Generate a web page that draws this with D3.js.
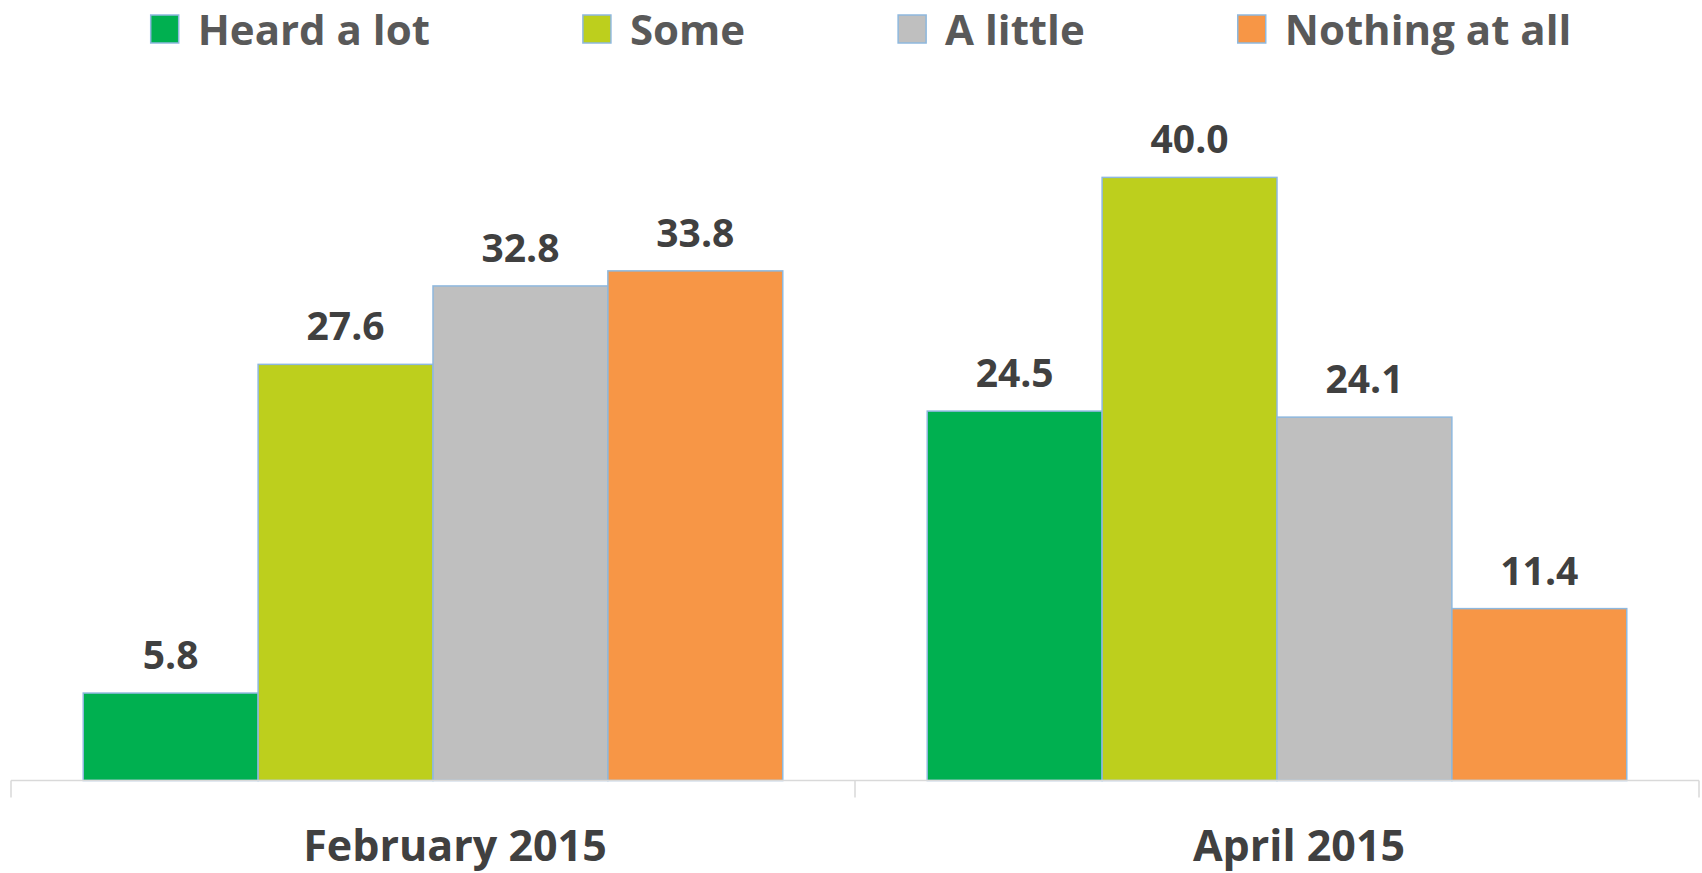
<!DOCTYPE html>
<html>
<head>
<meta charset="utf-8">
<script src="https://cdn.jsdelivr.net/npm/d3@7"></script>
<style>
  body { margin: 0; background: #fff; }
  text { font-family: "Open Sans", "Noto Sans", sans-serif; font-weight: bold; }
</style>
</head>
<body>
<div id="chart"></div>
<script>
const months = ["February 2015", "April 2015"];
const series = ["Heard a lot", "Some", "A little", "Nothing at all"];
const feb2015 = [5.8, 27.6, 32.8, 33.8];
const apr2015 = [24.5, 40.0, 24.1, 11.4];
const colors = ["#00B050", "#BDCF1D", "#BFBFBF", "#F79646"];

const values = [feb2015, apr2015];
const rows = [];
months.forEach((m, i) => {
    series.forEach((s, j) => {
        rows.push({ month: m, series: s, value: values[i][j] });
    });
});

const W = 1702, H = 873;
const plotLeft = 11, plotRight = 1699, baseline = 780.5, plotTop = 102;

const svg = d3.select("#chart")
    .append("svg")
    .attr("width", W)
    .attr("height", H);

const x0 = d3.scaleBand()
    .domain(months)
    .range([plotLeft, plotRight])
    .padding(0);

const x1 = d3.scaleBand()
    .domain(series)
    .range([0, x0.bandwidth()])
    .paddingInner(0)
    .paddingOuter(0.413);

const y = d3.scaleLinear()
    .domain([0, 45])
    .range([baseline, plotTop]);

const color = d3.scaleOrdinal()
    .domain(series)
    .range(colors);

// bars
svg.append("g")
    .selectAll("rect")
    .data(rows)
    .enter()
    .append("rect")
    .attr("x", d => x0(d.month) + x1(d.series))
    .attr("y", d => y(d.value))
    .attr("width", x1.bandwidth())
    .attr("height", d => y(0) - y(d.value))
    .attr("fill", d => color(d.series))
    .attr("stroke", "#8EB8DE")
    .attr("stroke-width", 1.5);

// value labels
svg.append("g")
    .selectAll("text")
    .data(rows)
    .enter()
    .append("text")
    .attr("x", d => x0(d.month) + x1(d.series) + x1.bandwidth() / 2)
    .attr("y", d => y(d.value) - 24)
    .attr("text-anchor", "middle")
    .style("font-size", "39px")
    .style("fill", "#404040")
    .text(d => d.value.toFixed(1));

// category axis
const xAxis = svg.append("g")
    .attr("transform", `translate(0,${baseline})`)
    .call(d3.axisBottom(x0).tickSize(0).tickFormat(""));
xAxis.select(".domain").remove();

xAxis.append("line")
    .attr("x1", plotLeft).attr("x2", plotRight)
    .attr("y1", 0).attr("y2", 0)
    .attr("stroke", "#D9D9D9")
    .attr("stroke-width", 1.5);

const edges = [plotLeft].concat(months.map(m => x0(m) + x0.bandwidth()));
xAxis.selectAll(".edge")
    .data(edges)
    .enter()
    .append("line")
    .attr("class", "edge")
    .attr("x1", d => d).attr("x2", d => d)
    .attr("y1", 0).attr("y2", 17)
    .attr("stroke", "#D9D9D9")
    .attr("stroke-width", 1.5);

svg.append("g")
    .selectAll("text")
    .data(months)
    .enter()
    .append("text")
    .attr("x", d => x0(d) + x0.bandwidth() / 2 + 22)
    .attr("y", 861)
    .attr("text-anchor", "middle")
    .style("font-size", "43px")
    .style("fill", "#404040")
    .text(d => d);

// legend
const legend = svg.append("g");
const items = legend.selectAll("g")
    .data(series)
    .enter()
    .append("g");

items.append("rect")
    .attr("width", 28)
    .attr("height", 28)
    .attr("y", 15)
    .attr("fill", d => color(d))
    .attr("stroke", "#8EB8DE")
    .attr("stroke-width", 1.5);

items.append("text")
    .attr("x", 47)
    .attr("y", 45)
    .style("font-size", "42px")
    .style("fill", "#595959")
    .text(d => d);

const gap = 153;
let pos = 0;
const starts = [];
items.each(function () {
    starts.push(pos);
    const tw = d3.select(this).select("text").node().getComputedTextLength();
    pos += 47 + tw + gap;
});
const total = pos - gap;
const startX = 861 - total / 2;
items.attr("transform", (d, i) => `translate(${startX + starts[i]},0)`);
</script>
</body>
</html>
